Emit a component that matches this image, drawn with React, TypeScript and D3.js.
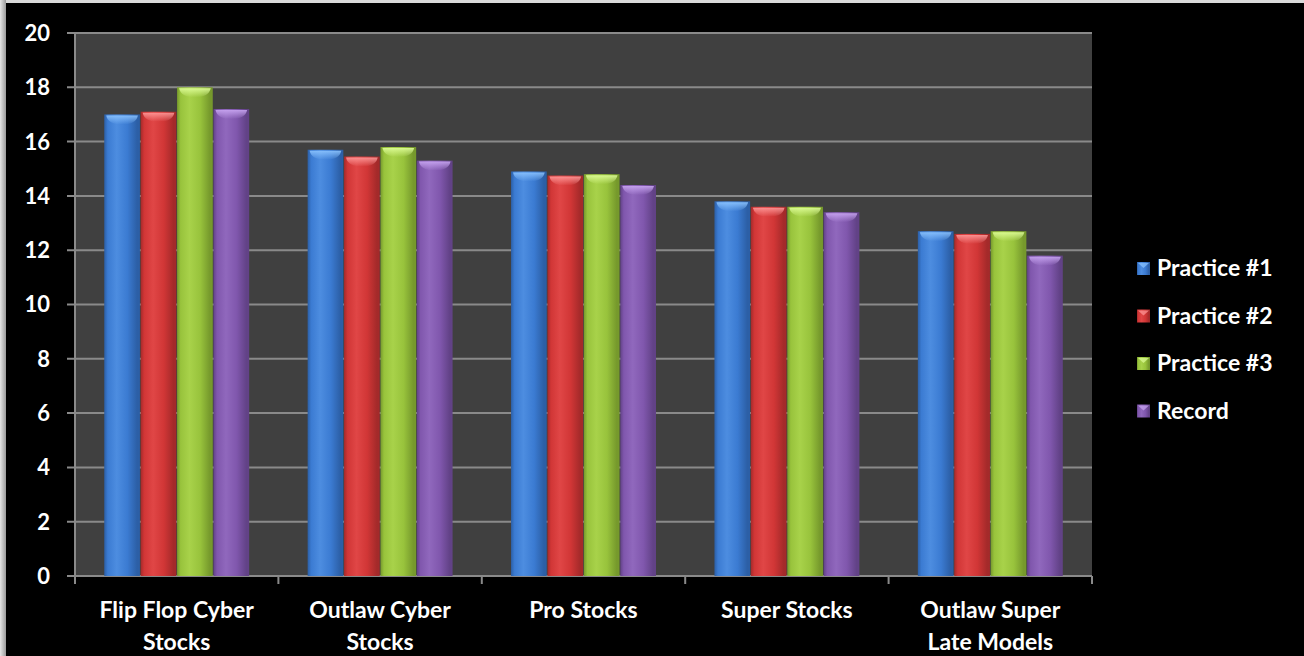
import React from "react";
import * as d3 from "d3";

const categories = [
  ["Flip Flop Cyber", "Stocks"],
  ["Outlaw Cyber", "Stocks"],
  ["Pro Stocks"],
  ["Super Stocks"],
  ["Outlaw Super", "Late Models"],
];
const seriesNames = ["Practice #1", "Practice #2", "Practice #3", "Record"];
const practice1 = [17.0, 15.7, 14.9, 13.8, 12.7];
const practice2 = [17.1, 15.45, 14.75, 13.6, 12.6];
const practice3 = [18.0, 15.8, 14.8, 13.6, 12.7];
const record = [17.2, 15.3, 14.4, 13.4, 11.8];
const yTicks = [0, 2, 4, 6, 8, 10, 12, 14, 16, 18, 20];

const seriesValues = [practice1, practice2, practice3, record];
const colors = [
  { base: "#3b7bd2", dark: "#2c5fa6", light: "#4d8de0", cap: "#8cc4ff" },
  { base: "#d13636", dark: "#a42a2a", light: "#e04646", cap: "#ff9a9a" },
  { base: "#98c33c", dark: "#76992c", light: "#a8d24a", cap: "#e0ff9a" },
  { base: "#8057ad", dark: "#624287", light: "#9068bd", cap: "#c9a6f2" },
];

const W = 1304;
const H = 656;
const plot = { left: 75, right: 1092, top: 33, bottom: 576 };

export default function App() {
  const x0 = d3
    .scaleBand<number>()
    .domain(d3.range(categories.length))
    .range([plot.left, plot.right])
    .paddingInner(0)
    .paddingOuter(0);
  const groupPad = 28.5;
  const x1 = d3
    .scaleBand<number>()
    .domain(d3.range(seriesNames.length))
    .range([groupPad, x0.bandwidth() - groupPad])
    .padding(0.02);
  const y = d3.scaleLinear().domain([0, 20]).range([plot.bottom, plot.top]);

  const font = "Lato, 'Open Sans', sans-serif";

  return (
    <div style={{ position: "absolute", left: 0, top: 0 }}>
      <svg width={W} height={H} style={{ display: "block" }}>
        <defs>
          <linearGradient id="frameL" x1="0" x2="1" y1="0" y2="0">
            <stop offset="0" stopColor="#e6e6e6" />
            <stop offset="1" stopColor="#9a9a9a" />
          </linearGradient>
          {colors.map((c, i) => (
            <linearGradient key={i} id={`bar${i}`} x1="0" x2="1" y1="0" y2="0">
              <stop offset="0" stopColor={c.dark} />
              <stop offset="0.1" stopColor={c.base} />
              <stop offset="0.35" stopColor={c.light} />
              <stop offset="0.65" stopColor={c.base} />
              <stop offset="0.92" stopColor={c.dark} />
              <stop offset="1" stopColor={c.dark} />
            </linearGradient>
          ))}
          {colors.map((c, i) => (
            <linearGradient key={i} id={`cap${i}`} x1="0" x2="0" y1="0" y2="1">
              <stop offset="0" stopColor={c.cap} stopOpacity="0.9" />
              <stop offset="1" stopColor={c.cap} stopOpacity="0" />
            </linearGradient>
          ))}
        </defs>
        <rect x={0} y={0} width={W} height={H} fill="#000" />
        <rect x={0} y={0} width={W} height={3} fill="#d9d9d9" />
        <rect x={0} y={0} width={6} height={H} fill="url(#frameL)" />

        <rect
          x={plot.left}
          y={plot.top}
          width={plot.right - plot.left}
          height={plot.bottom - plot.top}
          fill="#404040"
        />
        {yTicks.map((t) => (
          <g key={t}>
            <line
              x1={67}
              x2={plot.right}
              y1={y(t)}
              y2={y(t)}
              stroke="#8a8a8a"
              strokeWidth={2}
            />
            <text
              x={50}
              y={y(t)}
              dy="0.36em"
              textAnchor="end"
              fill="#fff"
              fontFamily={font}
              fontWeight="bold"
              fontSize={22}
            >
              {t}
            </text>
          </g>
        ))}
        <line
          x1={plot.left}
          x2={plot.left}
          y1={plot.top}
          y2={plot.bottom}
          stroke="#8a8a8a"
          strokeWidth={2}
        />
        {d3.range(categories.length + 1).map((i) => {
          const xx = plot.left + i * x0.bandwidth();
          return (
            <line
              key={i}
              x1={xx}
              x2={xx}
              y1={plot.bottom}
              y2={plot.bottom + 8}
              stroke="#8a8a8a"
              strokeWidth={2}
            />
          );
        })}

        {categories.map((cat, ci) => (
          <g key={ci} transform={`translate(${x0(ci)},0)`}>
            {seriesValues.map((vals, si) => {
              const bx = x1(si)!;
              const bw = x1.bandwidth();
              const top = y(vals[ci]);
              return (
                <g key={si}>
                  <rect
                    x={bx}
                    y={top}
                    width={bw}
                    height={plot.bottom - top}
                    fill={`url(#bar${si})`}
                  />
                  <path
                    d={`M${bx + 2},${top + 1} L${bx + bw - 2},${top + 1} Q${bx + bw - 4},${top + 10} ${bx + bw / 2},${top + 10} Q${bx + 4},${top + 10} ${bx + 2},${top + 1} Z`}
                    fill={`url(#cap${si})`}
                  />
                </g>
              );
            })}
            {cat.map((line, li) => (
              <text
                key={li}
                x={x0.bandwidth() / 2}
                y={618 + li * 32}
                textAnchor="middle"
                fill="#fff"
                fontFamily={font}
                fontWeight="bold"
                fontSize={23}
              >
                {line}
              </text>
            ))}
          </g>
        ))}

        {seriesNames.map((name, i) => {
          const cy = 268 + i * 47.5;
          return (
            <g key={name}>
              <rect
                x={1137}
                y={cy - 6}
                width={13}
                height={13}
                fill={`url(#bar${i})`}
              />
              <path
                d={`M1138,${cy - 5} L1149,${cy - 5} L1143.5,${cy} Z`}
                fill={colors[i].cap}
                opacity={0.7}
              />
              <text
                x={1157}
                y={cy}
                dy="0.36em"
                fill="#fff"
                fontFamily={font}
                fontWeight="bold"
                fontSize={23}
              >
                {name}
              </text>
            </g>
          );
        })}
      </svg>
    </div>
  );
}
